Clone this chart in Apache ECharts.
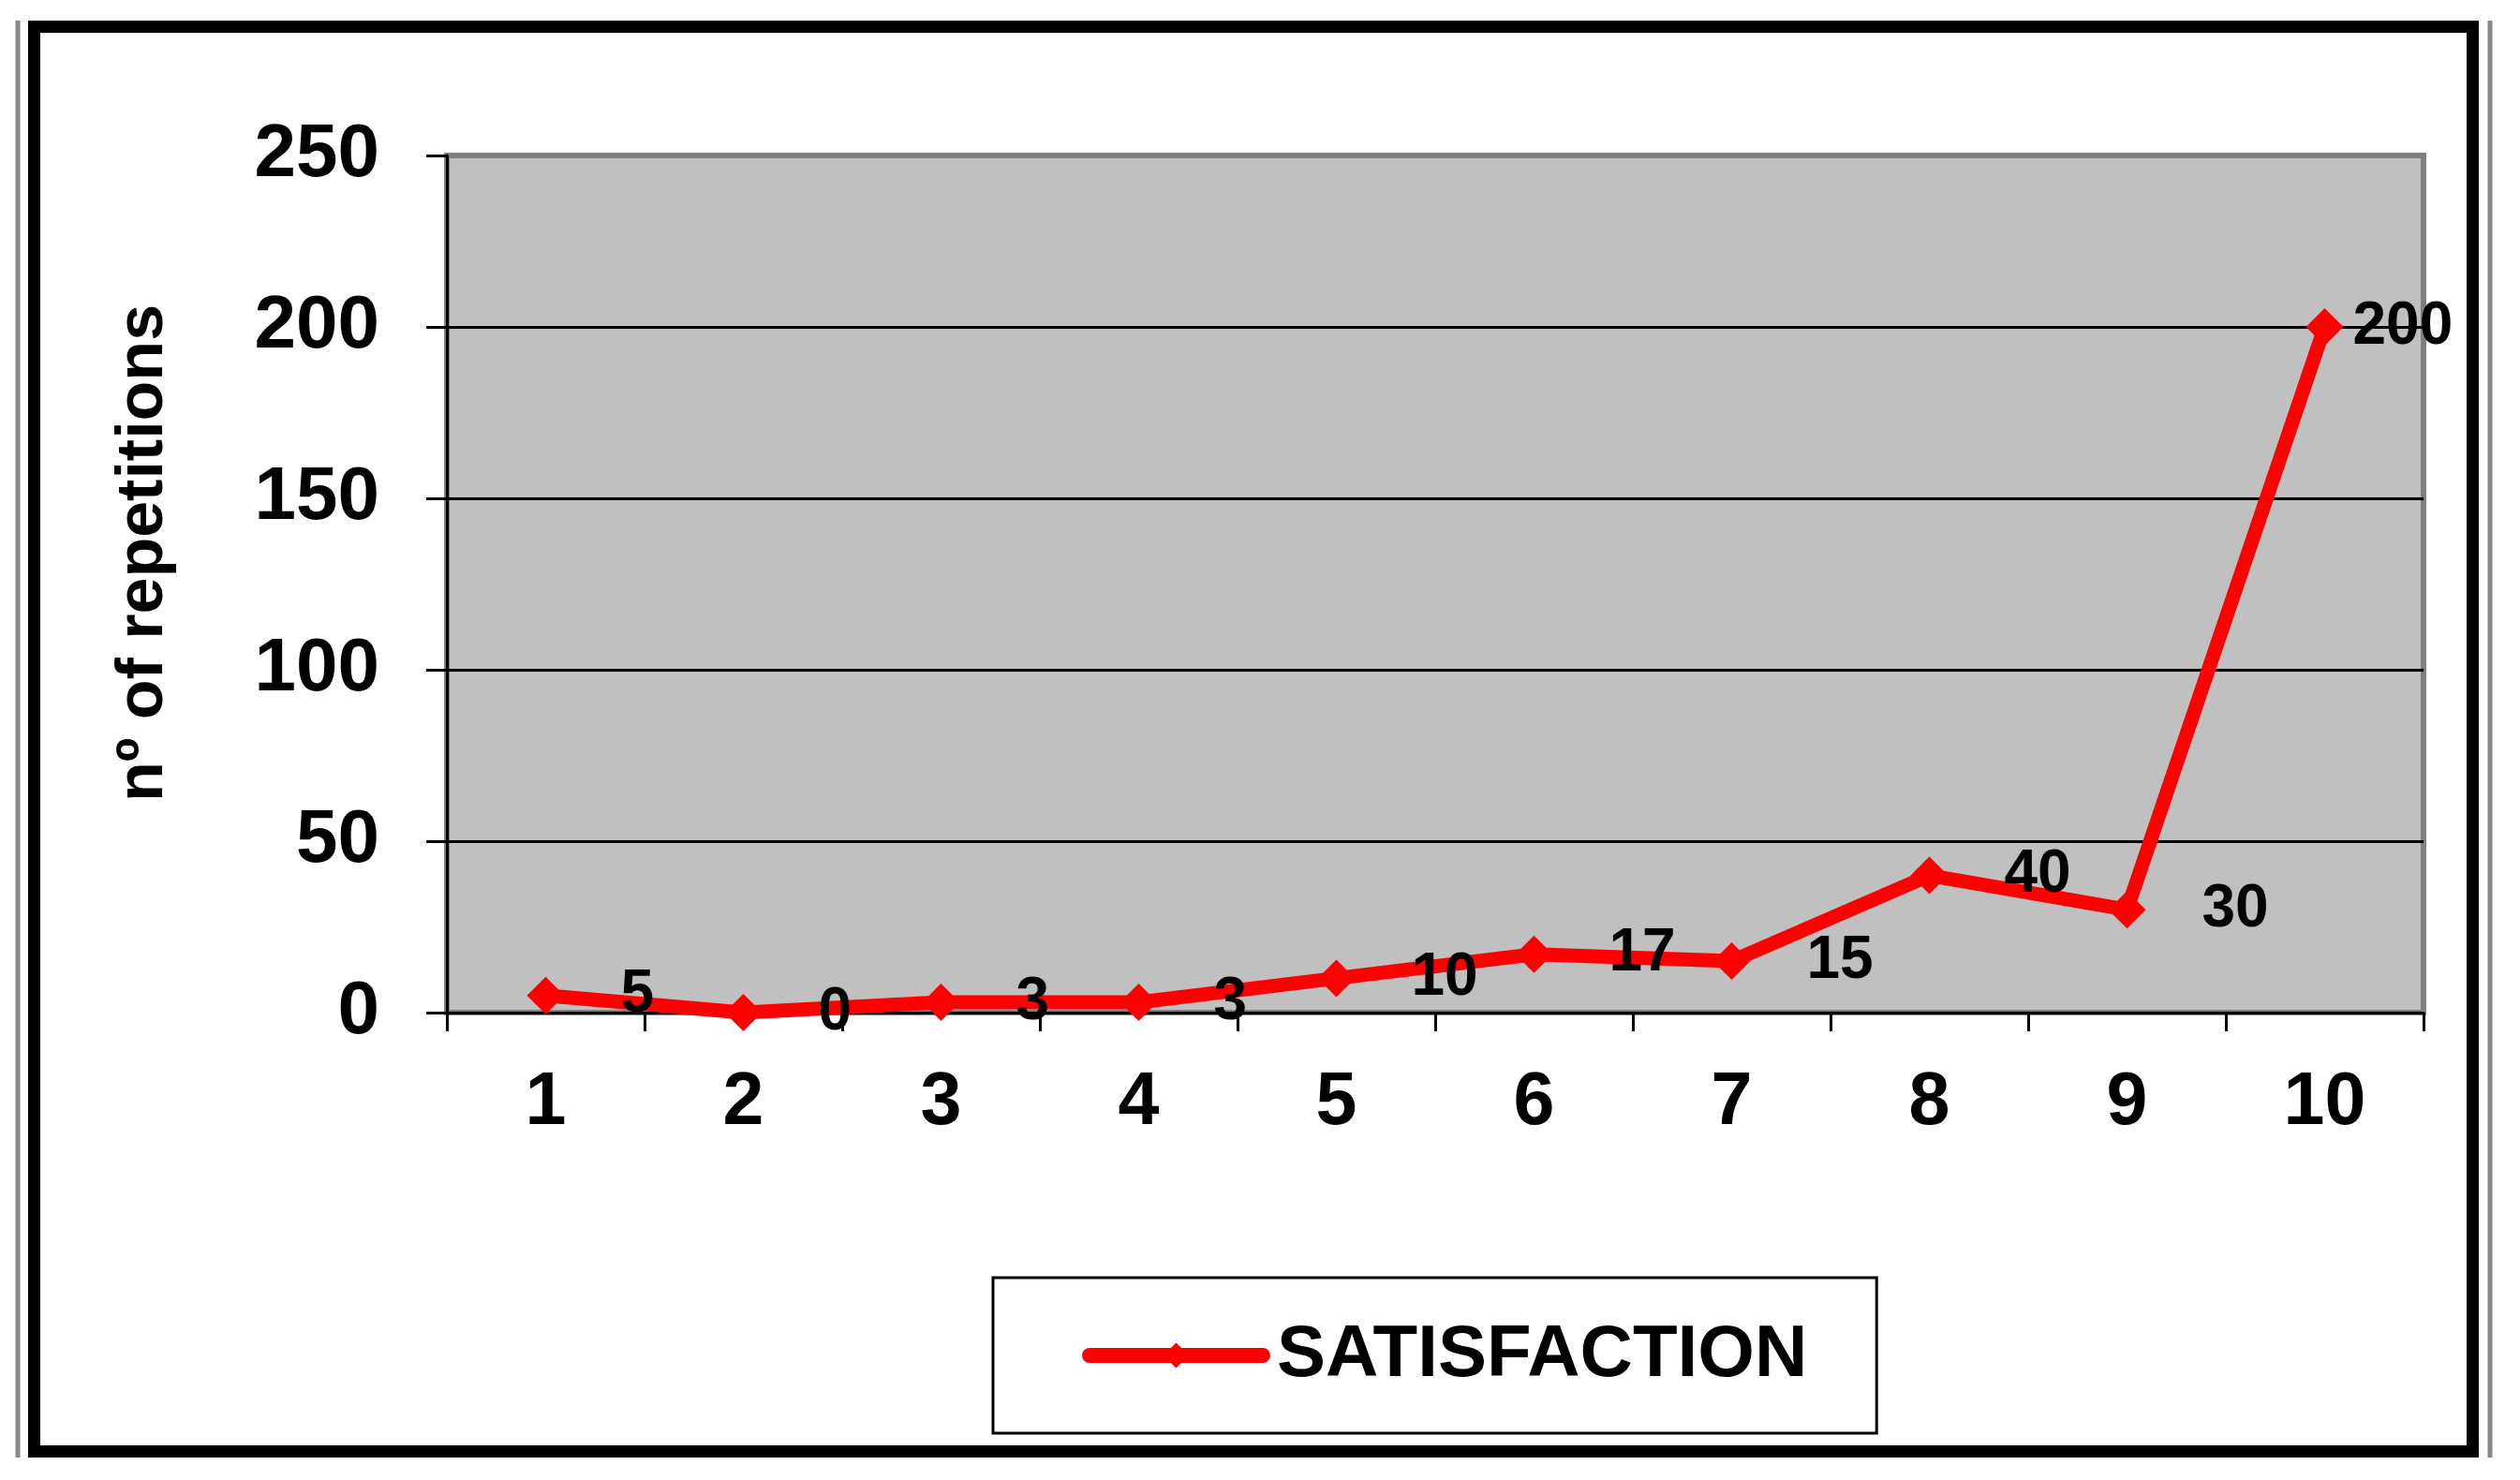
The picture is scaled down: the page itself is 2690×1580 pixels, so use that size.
<!DOCTYPE html>
<html>
<head>
<meta charset="utf-8">
<script src="https://cdn.jsdelivr.net/npm/echarts@6/dist/echarts.min.js"></script>
<style>
html,body{margin:0;padding:0;background:#fff;}
#chart{width:2690px;height:1580px;}
</style>
</head>
<body>
<div id="chart"></div>
<script>
const categories = ['1','2','3','4','5','6','7','8','9','10'];
const satisfaction = [5, 0, 3, 3, 10, 17, 15, 40, 30, 200];
const seriesName = 'SATISFACTION';
const yAxisName = 'nº of repetitions';
const yTicks = [0, 50, 100, 150, 200, 250];

const FONT = '"Liberation Sans", Arial, sans-serif';
const chart = echarts.init(document.getElementById('chart'), null, {renderer: 'canvas'});

const seriesData = satisfaction.map((v, i) =>
  i === satisfaction.length - 1 ? {value: v, label: {distance: 10}} : v);

chart.setOption({
  backgroundColor: '#ffffff',
  animation: false,
  textStyle: {fontFamily: FONT},
  grid: {
    left: 477, top: 166, width: 2110, height: 915,
    show: true, backgroundColor: '#C0C0C0',
    borderColor: '#808080', borderWidth: 6
  },
  xAxis: {
    type: 'category',
    data: categories,
    boundaryGap: true,
    axisLine: {lineStyle: {color: '#000', width: 3}},
    axisTick: {show: true, length: 20, lineStyle: {color: '#000', width: 3}},
    axisLabel: {margin: 58, color: '#000', fontSize: 79, fontWeight: 'bold', fontFamily: FONT}
  },
  yAxis: {
    type: 'value',
    min: yTicks[0], max: yTicks[yTicks.length - 1], interval: 50,
    name: yAxisName,
    nameLocation: 'middle',
    nameGap: 288,
    nameTextStyle: {color: '#000', fontSize: 70, fontWeight: 'bold', fontFamily: FONT, padding: [0, 0, 0, 66]},
    axisLine: {show: true, lineStyle: {color: '#000', width: 3}},
    axisTick: {show: true, length: 22, lineStyle: {color: '#000', width: 3}},
    axisLabel: {margin: 72, color: '#000', fontSize: 80, fontWeight: 'bold', fontFamily: FONT},
    splitLine: {show: true, lineStyle: {color: ['#000','#000','#000','#000','#000','rgba(0,0,0,0)'], width: 3}}
  },
  legend: {
    show: true,
    left: 1060, top: 1364,
    orient: 'horizontal',
    padding: [44, 74, 44, 95],
    borderColor: '#000', borderWidth: 3,
    backgroundColor: '#fff',
    itemWidth: 185, itemHeight: 34,
    lineStyle: {width: 16, cap: 'round', color: '#FF0000'},
    textStyle: {color: '#000', fontSize: 78, fontWeight: 'bold', fontFamily: FONT, padding: [0, 0, 0, 10]},
    data: [seriesName]
  },
  series: [{
    name: seriesName,
    type: 'line',
    data: seriesData,
    symbol: 'diamond',
    symbolSize: 40,
    itemStyle: {color: '#FF0000'},
    lineStyle: {color: '#FF0000', width: 15},
    label: {show: true, position: 'right', distance: 60, color: '#000',
            fontSize: 64, fontWeight: 'bold', fontFamily: FONT}
  }],
  graphic: [
    {type: 'rect', silent: true, z: 100,
     shape: {x: 36.5, y: 28.5, width: 2603, height: 1521},
     style: {fill: null, stroke: '#000', lineWidth: 13}},
    {type: 'line', silent: true, z: 100,
     shape: {x1: 19, y1: 22, x2: 19, y2: 1556},
     style: {stroke: '#888', lineWidth: 5}},
    {type: 'line', silent: true, z: 100,
     shape: {x1: 2658, y1: 22, x2: 2658, y2: 1556},
     style: {stroke: '#888', lineWidth: 5}}
  ]
});
</script>
</body>
</html>
